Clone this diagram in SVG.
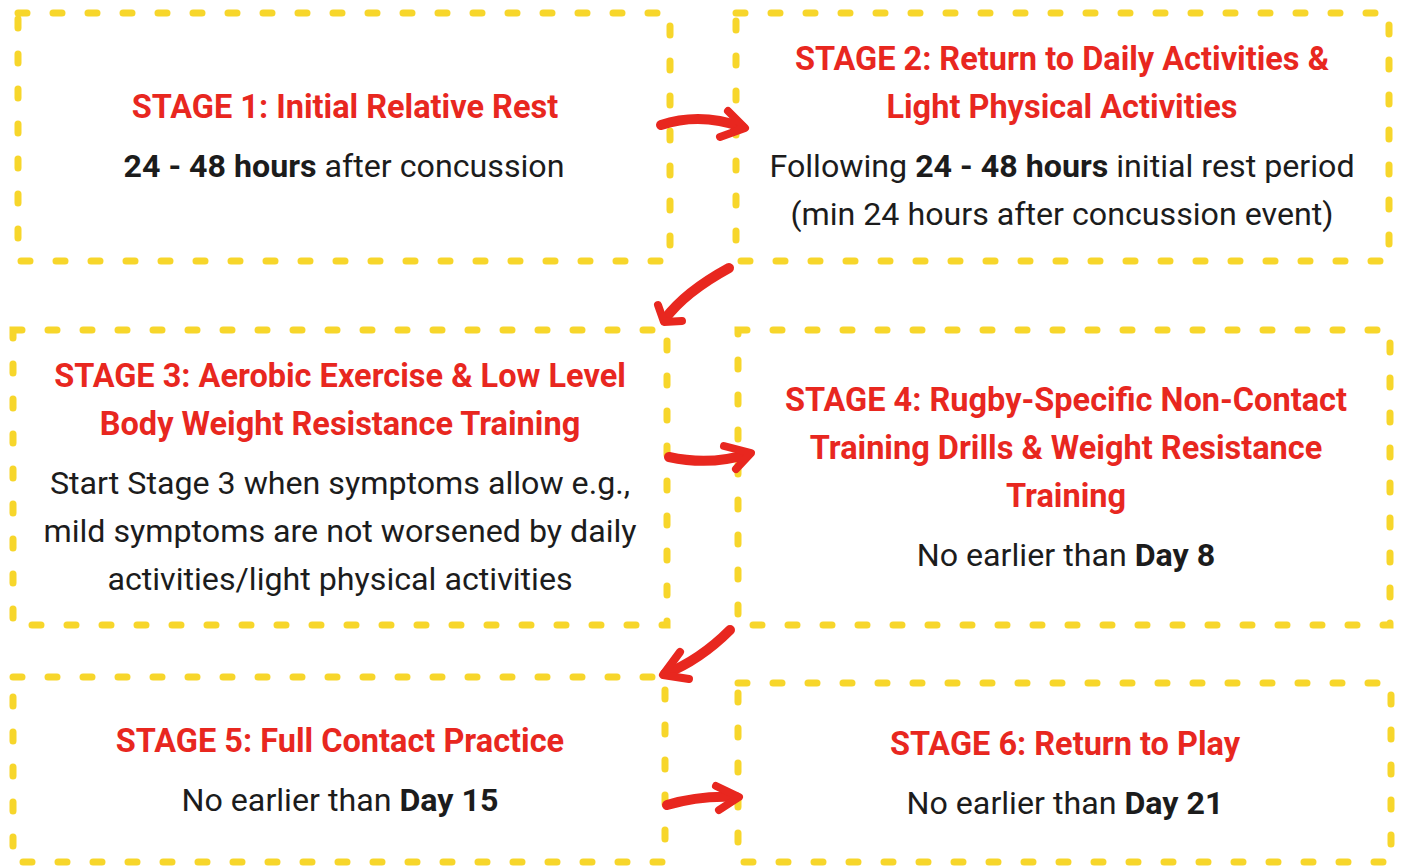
<svg xmlns="http://www.w3.org/2000/svg" width="1404" height="867" viewBox="0 0 1404 867">
<style>
.box{fill:none;stroke:#f7d62b;stroke-width:7;stroke-linecap:round;stroke-dasharray:9 26;}
.t{font-family:Roboto,"Liberation Sans",sans-serif;font-size:32.5px;font-weight:700;fill:#e8271f;text-anchor:middle;}
.b{font-family:Roboto,"Liberation Sans",sans-serif;font-size:32.2px;font-weight:400;fill:#1c1c1c;text-anchor:middle;}
.bb{font-weight:700;}
.sh{fill:none;stroke:#e8271f;stroke-width:10;stroke-linecap:round;}
.hd{fill:none;stroke:#e8271f;stroke-width:8;stroke-linecap:round;stroke-linejoin:round;}
</style>
<rect width="1404" height="867" fill="#ffffff"/>
<g id="stage1">
<rect class="box" x="18" y="13" width="652" height="248"/>
<text class="t" x="345" y="118">STAGE 1: Initial Relative Rest</text>
<text class="b" x="344" y="177"><tspan class="bb">24 - 48 hours</tspan> after concussion</text>
</g>
<g id="stage2">
<rect class="box" x="736" y="13" width="653" height="248"/>
<text class="t" x="1062" y="70">STAGE 2: Return to Daily Activities &amp;</text>
<text class="t" x="1062" y="118">Light Physical Activities</text>
<text class="b" x="1062" y="177">Following <tspan class="bb">24 - 48 hours</tspan> initial rest period</text>
<text class="b" x="1062" y="225">(min 24 hours after concussion event)</text>
</g>
<g id="stage3">
<rect class="box" x="13" y="330" width="654" height="295"/>
<text class="t" x="340" y="387">STAGE 3: Aerobic Exercise &amp; Low Level</text>
<text class="t" x="340" y="435">Body Weight Resistance Training</text>
<text class="b" x="340" y="494">Start Stage 3 when symptoms allow e.g.,</text>
<text class="b" x="340" y="542">mild symptoms are not worsened by daily</text>
<text class="b" x="340" y="590">activities/light physical activities</text>
</g>
<g id="stage4">
<rect class="box" x="738" y="330" width="652" height="295"/>
<text class="t" x="1066" y="411">STAGE 4: Rugby-Specific Non-Contact</text>
<text class="t" x="1066" y="459">Training Drills &amp; Weight Resistance</text>
<text class="t" x="1066" y="507">Training</text>
<text class="b" x="1066" y="566">No earlier than <tspan class="bb">Day 8</tspan></text>
</g>
<g id="stage5">
<rect class="box" x="13" y="677" width="652" height="185"/>
<text class="t" x="340" y="752">STAGE 5: Full Contact Practice</text>
<text class="b" x="340" y="811">No earlier than <tspan class="bb">Day 15</tspan></text>
</g>
<g id="stage6">
<rect class="box" x="738" y="683" width="653" height="179"/>
<text class="t" x="1065" y="755">STAGE 6: Return to Play</text>
<text class="b" x="1065" y="814">No earlier than <tspan class="bb">Day 21</tspan></text>
</g>
<g id="connectors">
<path class="sh" d="M661,125 Q700,112 742,127"/>
<polyline class="hd" points="728,111 745,128 720,137"/>
<path class="sh" d="M729,268 Q685,292 665,319"/>
<polyline class="hd" points="658,305 664,322 682,321"/>
<path class="sh" d="M669,457 Q710,466 748,454"/>
<polyline class="hd" points="724,446 751,453 736,469"/>
<path class="sh" d="M730,630 Q700,660 665,674"/>
<polyline class="hd" points="680,652 663,675 689,679"/>
<path class="sh" d="M667,805 Q700,795 736,797"/>
<polyline class="hd" points="716,786 739,797 719,810"/>
</g>
</svg>
